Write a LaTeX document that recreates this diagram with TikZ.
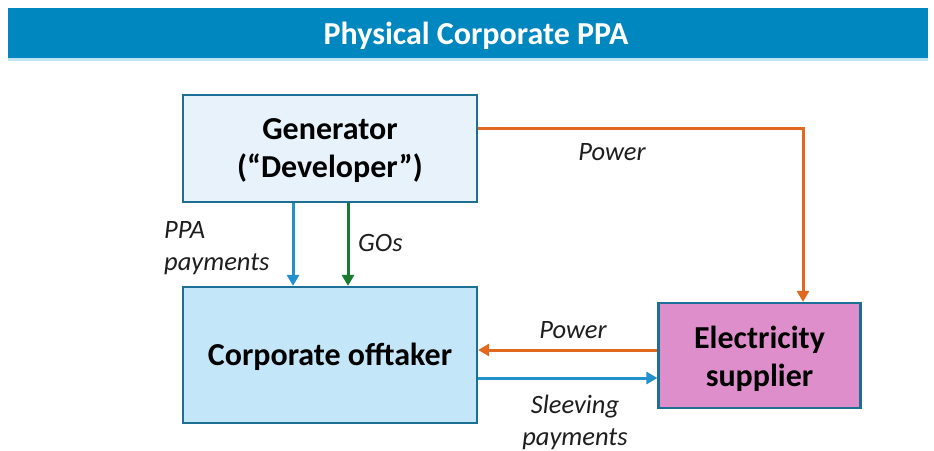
\documentclass[tikz,border=0pt]{standalone}
\usepackage{fontspec}
\setmainfont{Carlito}
\usetikzlibrary{arrows.meta}
\definecolor{barblue}{HTML}{0087BF}
\definecolor{barline}{HTML}{BFE3F2}
\definecolor{edgeblue}{HTML}{1D6F94}
\definecolor{genfill}{HTML}{E7F2FA}
\definecolor{offfill}{HTML}{C3E7F8}
\definecolor{supfill}{HTML}{DE8FCB}
\definecolor{powerorange}{HTML}{E0691F}
\definecolor{payblue}{HTML}{2490CC}
\definecolor{gogreen}{HTML}{1A7B30}
\definecolor{labeltext}{HTML}{1E1E1E}
\tikzset{
  party/.style={draw=edgeblue, line width=2.2pt, rectangle, inner sep=0pt},
  partytext/.style={align=center, font=\fontsize{32}{38}\selectfont\bfseries,
    text=black, inner sep=0pt},
  flow/.style={line width=3pt, -{Triangle[width=12pt,length=11pt]}},
  flowlabel/.style={font=\fontsize{26.5}{32}\selectfont\itshape, text=labeltext, inner sep=0pt}
}
\begin{document}
\begin{tikzpicture}[x=1pt,y=-1pt]
\useasboundingbox (0,0) rectangle (934,450);
\fill[white] (0,0) rectangle (934,450);

% heading band
\fill[barline] (8,57) rectangle (928,61);
\fill[barblue] (8,8) rectangle (928,58);
\node[font=\fontsize{32}{37}\selectfont\bfseries, text=white, inner sep=0pt] (heading) at (476,36) {Physical Corporate PPA};

% parties
\node[party, fill=genfill, minimum width=294pt, minimum height=107pt] (gen) at (330,148.5) {};
\node[partytext] (gentext) at (330,151) {Generator\\(“Developer”)};
\node[party, fill=offfill, minimum width=294pt, minimum height=136pt] (off) at (330,355) {};
\node[partytext] (offtext) at (330,357) {Corporate offtaker};
\node[party, fill=supfill, minimum width=202pt, minimum height=105pt] (sup) at (759.5,355.5) {};
\node[partytext] (suptext) at (759.5,358.5) {Electricity\\supplier};

% generator to supplier: power
\draw[flow, powerorange] ([yshift=20.5pt]gen.east) -| ([xshift=43.5pt]sup.north);
\node[flowlabel] (lpow1) at (612,152) {Power};

% generator to offtaker: payments and GOs
\draw[flow, payblue] ([xshift=-37pt]gen.south) -- ([xshift=-37pt]off.north);
\draw[flow, gogreen] ([xshift=18pt]gen.south) -- ([xshift=18pt]off.north);
\node[flowlabel, align=left, anchor=west] (lppa) at (164,248.5) {PPA\\payments};
\node[flowlabel, anchor=west] (lgo) at (358,243) {GOs};

% supplier and offtaker
\coordinate (pw) at ([yshift=5.5pt]sup.west);
\coordinate (sl) at ([yshift=-22.5pt]sup.west);
\draw[flow, powerorange] (pw) -- (pw -| off.east);
\draw[flow, payblue] (sl -| off.east) -- (sl);
\node[flowlabel] (lpow2) at (573,330) {Power};
\node[flowlabel, align=center] (lslv) at (575,422) {Sleeving\\payments};
\end{tikzpicture}
\end{document}
